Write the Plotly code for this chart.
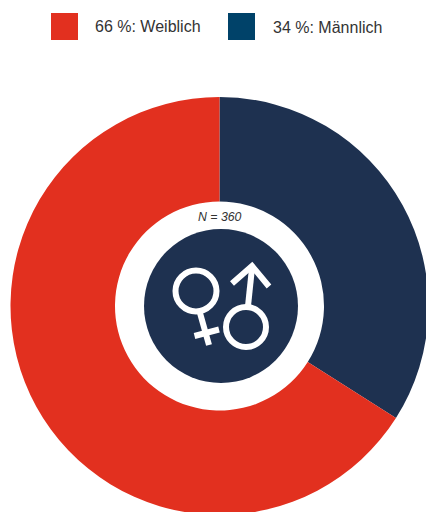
import plotly.graph_objects as go

categories = ["Männlich", "Weiblich"]
values = [34, 66]
slice_colors = ["#1E3150", "#E2301F"]
legend_labels = ["66 %: Weiblich", "34 %: Männlich"]
legend_colors = ["#E2301F", "#004269"]
n_label = "N = 360"

W, H = 430, 516
CX, CY, R = 219.5, 306, 209

def px(x):
    return x / W

def py(y):
    return 1 - y / H

def line_path(points):
    return "M " + " L ".join(f"{px(x)} {py(y)}" for x, y in points)

fig = go.Figure(go.Pie(
    labels=categories, values=values, sort=False, direction="clockwise", rotation=0,
    hole=0.5, textinfo="none", hoverinfo="label+percent",
    marker=dict(colors=slice_colors, line=dict(width=0)),
    domain=dict(x=[(CX - R) / W, (CX + R) / W], y=[1 - (CY + R) / H, 1 - (CY - R) / H]),
    showlegend=False,
))

shapes = []
def circle(cx, cy, r, **kw):
    shapes.append(dict(type="circle", xref="paper", yref="paper",
                       x0=px(cx - r), x1=px(cx + r), y0=py(cy + r), y1=py(cy - r), **kw))

def polyline(points, width=6):
    shapes.append(dict(type="path", xref="paper", yref="paper", path=line_path(points),
                       line=dict(color="white", width=width)))

# centre badge
circle(221, 306, 77, fillcolor="#1E3150", line=dict(width=0))
# female symbol
circle(196, 291, 20.5, line=dict(color="white", width=6))
polyline([(200, 313), (209, 345)])
polyline([(194.5, 336), (219, 329.5)])
# male symbol
circle(246, 327, 20, line=dict(color="white", width=6))
polyline([(248, 306), (252, 268)])
polyline([(232, 283.5), (252, 266), (269, 286.5)])

# legend swatches
for x0, col in zip([51, 228], legend_colors):
    shapes.append(dict(type="rect", xref="paper", yref="paper", x0=px(x0), x1=px(x0 + 27),
                       y0=py(40), y1=py(13), fillcolor=col, line=dict(width=0)))

annotations = [
    dict(x=px(93), y=py(26.5), text=legend_labels[0], xanchor="left", yanchor="middle",
         xref="paper", yref="paper", showarrow=False,
         font=dict(family="Liberation Sans", size=16, color="#333333")),
    dict(x=px(271), y=py(28), text=legend_labels[1], xanchor="left", yanchor="middle",
         xref="paper", yref="paper", showarrow=False,
         font=dict(family="Liberation Sans", size=16, color="#333333")),
    dict(x=px(220), y=py(216.5), text=f"<i>{n_label}</i>", xanchor="center", yanchor="middle",
         xref="paper", yref="paper", showarrow=False,
         font=dict(family="Liberation Sans", size=12.3, color="#333333")),
]

fig.update_layout(width=W, height=H, margin=dict(l=0, r=0, t=0, b=0),
                  paper_bgcolor="white", plot_bgcolor="white",
                  shapes=shapes, annotations=annotations)

fig.write_html("out.html", config=dict(displayModeBar=False),
               post_script="document.body.style.margin='0';document.documentElement.style.overflow='hidden';document.body.style.overflow='hidden';")
